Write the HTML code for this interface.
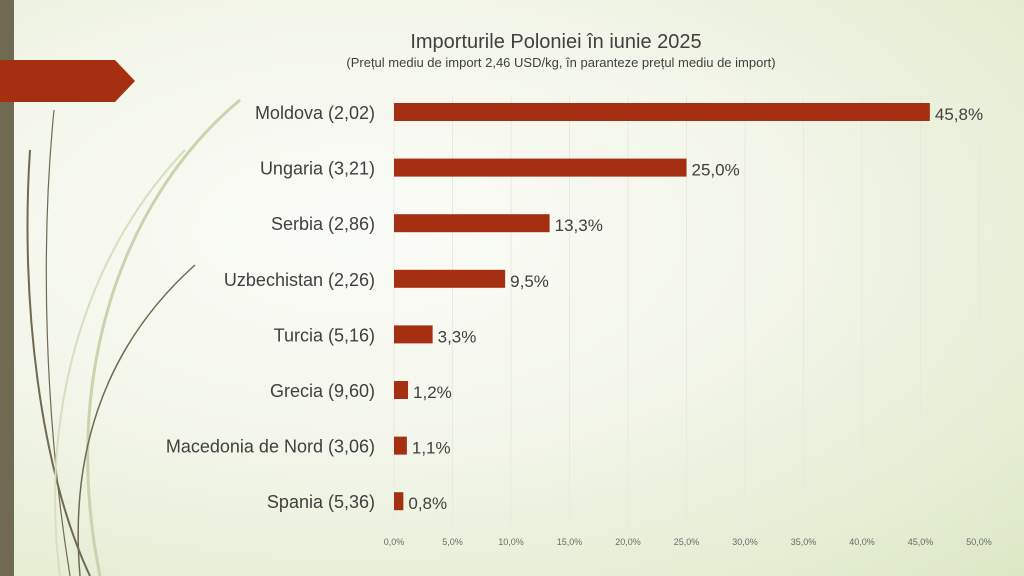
<!DOCTYPE html>
<html><head><meta charset="utf-8"><style>
body{margin:0;width:1024px;height:576px;overflow:hidden;font-family:"Century Gothic","URW Gothic","Liberation Sans",sans-serif}
#bg{position:absolute;left:0;top:0;width:1024px;height:576px;background:radial-gradient(ellipse at 35% 40%,#fbfcf8 0%,#f3f6ea 45%,#dde8c6 100%)}
</style></head><body>
<div id="bg"></div>
<svg width="1024" height="576" style="position:absolute;left:0;top:0">
<rect x="0" y="0" width="14" height="576" fill="#716a52"/>
<g fill="none">
<path d="M54 110 C40 250 45 420 70 576" stroke="#6f6a50" stroke-width="1.2"/>
<path d="M30 150 C20 300 40 470 90 576" stroke="#6f6a50" stroke-width="2"/>
<path d="M240 100 C120 200 60 380 100 576" stroke="#c9d4ae" stroke-width="3"/>
<path d="M195 265 C100 350 70 460 80 576" stroke="#6f6a50" stroke-width="1.5"/>
<path d="M185 150 C80 260 40 420 60 576" stroke="#d6dfc0" stroke-width="2"/>
</g>
<polygon points="0,60 115,60 135,81 115,102 0,102" fill="#a52f11"/>
<text x="556" y="48" text-anchor="middle" font-size="20" fill="#404040">Importurile Poloniei în iunie 2025</text>
<text x="561" y="67" text-anchor="middle" font-size="13" fill="#404040">(Prețul mediu de import 2,46 USD/kg, în paranteze prețul mediu de import)</text>
<g id="grid"></g><g id="bars"></g><g id="ticks"></g>
</svg>
<script>
const categories=["Moldova (2,02)","Ungaria (3,21)","Serbia (2,86)","Uzbechistan (2,26)","Turcia (5,16)","Grecia (9,60)","Macedonia de Nord (3,06)","Spania (5,36)"];
const values=[45.8,25.0,13.3,9.5,3.3,1.2,1.1,0.8];
const valueLabels=["45,8%","25,0%","13,3%","9,5%","3,3%","1,2%","1,1%","0,8%"];
const tickValues=[0,5,10,15,20,25,30,35,40,45,50];
const tickLabels=["0,0%","5,0%","10,0%","15,0%","20,0%","25,0%","30,0%","35,0%","40,0%","45,0%","50,0%"];
const NS="http://www.w3.org/2000/svg";
const x=v=>394+v*(979-394)/50;
const y=i=>112+i*55.6;
function mk(t,a,p){const e=document.createElementNS(NS,t);for(const k in a)e.setAttribute(k,a[k]);p.appendChild(e);return e;}
const g=document.getElementById('grid'),b=document.getElementById('bars'),tk=document.getElementById('ticks');
tickValues.forEach((v,i)=>{
 const l=mk('line',{x1:x(v),x2:x(v),y1:95,y2:525,stroke:'#e8eae2','stroke-width':1},g);
 
 
 const t=mk('text',{x:x(v),y:545,'text-anchor':'middle','font-size':9,fill:'#6a6a6a'},tk);
 t.textContent=tickLabels[i];
 
 
});
categories.forEach((c,i)=>{
 const r=mk('rect',{x:x(0),y:y(i)-9,width:x(values[i])-x(0),height:18,fill:'#a52f11'},b);
 
 
 const t=mk('text',{x:375,y:y(i)+7,'text-anchor':'end','font-size':18,fill:'#404040'},b);
 t.textContent=c;
 
 
 const v=mk('text',{x:x(values[i])+5,y:y(i)+8,'font-size':17,fill:'#404040'},b);
 v.textContent=valueLabels[i];
 
 
});
</script>
</body></html>
